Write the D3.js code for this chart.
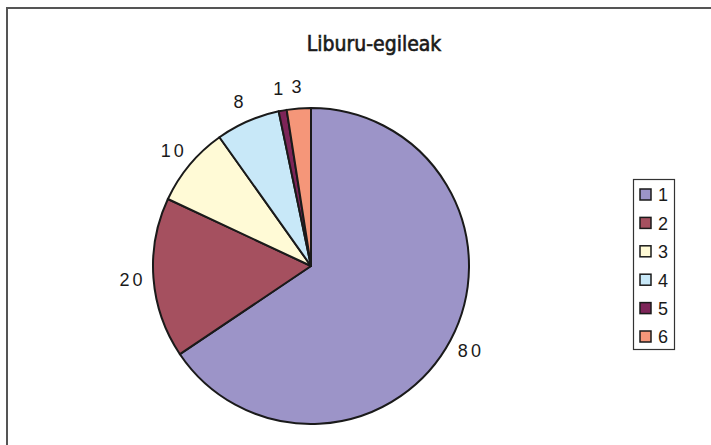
<!DOCTYPE html>
<html><head><meta charset="utf-8">
<script src="https://cdn.jsdelivr.net/npm/d3@7"></script>
<style>
html,body{margin:0;padding:0;background:#fff;}
svg{display:block;}
</style></head>
<body>
<script>
const title = "Liburu-egileak";
const categories = ["1","2","3","4","5","6"];
const values = [80, 20, 10, 8, 1, 3];
const colors = ["#9C94C8","#A5505F","#FFFAD6","#C8E8F8","#7D2458","#F59679"];

const W = 711, H = 445;
const svg = d3.select("body").append("svg").attr("width", W).attr("height", H);

// outer frame
svg.append("path")
  .attr("d", `M7,${H+5} L7,8 L${W+5},8`)
  .attr("fill","none").attr("stroke","#555").attr("stroke-width",2);

svg.append("text")
  .attr("x", 374).attr("y", 51)
  .attr("text-anchor","middle")
  .attr("font-family","'Liberation Sans Narrow','DejaVu Sans Condensed',Arial,sans-serif")
  .attr("font-size", 21)
  .attr("fill","#1a1a1a")
  .attr("stroke","#1a1a1a").attr("stroke-width",0.6)
  .text(title);

const cx = 311, cy = 266, r = 158;
const pie = d3.pie().sort(null).value(d => d)(values);
const arc = d3.arc().innerRadius(0).outerRadius(r);
const g = svg.append("g").attr("transform", `translate(${cx},${cy})`);
g.selectAll("path").data(pie).join("path")
  .attr("d", arc)
  .attr("fill", (d,i) => colors[i])
  .attr("stroke","#1a1a1a").attr("stroke-width",2).attr("stroke-linejoin","round");

const labelArc = d3.arc().innerRadius(180).outerRadius(180);
g.selectAll("text").data(pie).join("text")
  .attr("transform", d => { const c = labelArc.centroid(d); return `translate(${c[0]+1},${c[1]})`; })
  .attr("text-anchor","middle")
  .attr("dy","0.36em")
  .attr("font-family","'Liberation Sans',Arial,sans-serif")
  .attr("font-size",18)
  .attr("letter-spacing","3px")
  .attr("fill","#1a1a1a")
  .text(d => d.data);

// legend
const lg = svg.append("g");
lg.append("rect").attr("x",633.5).attr("y",179.5).attr("width",41).attr("height",170)
  .attr("fill","#fff").attr("stroke","#333").attr("stroke-width",1.2);
const ly = d3.scalePoint().domain(categories).range([195, 337]);
categories.forEach((c,i) => {
  lg.append("rect").attr("x",640).attr("y",ly(c)-6).attr("width",11).attr("height",11)
    .attr("fill",colors[i]).attr("stroke","#1a1a1a").attr("stroke-width",1.5);
  lg.append("text").attr("x",658).attr("y",ly(c)).attr("dy","0.36em")
    .attr("font-family","'Liberation Sans',Arial,sans-serif").attr("font-size",18)
    .attr("fill","#1a1a1a").text(c);
});
</script>
</body></html>
